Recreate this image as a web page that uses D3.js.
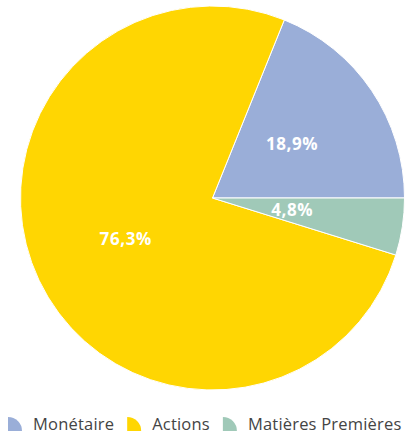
<!DOCTYPE html>
<html>
<head>
<meta charset="utf-8">
<script src="https://cdn.jsdelivr.net/npm/d3@7"></script>
<style>
  body { margin: 0; background: #fff; }
  svg { display: block; }
  .slice-label { font-family: "Open Sans", Lato, sans-serif; font-weight: 700; font-size: 17px; letter-spacing: 0.6px; fill: #fff; }
  .legend-text { font-family: "Open Sans", Lato, sans-serif; font-size: 16.5px; letter-spacing: 0.2px; fill: #444; }
</style>
</head>
<body>
<svg id="chart"></svg>
<script>
const categories = ['Monétaire', 'Actions', 'Matières Premières'];
const values = [18.9, 76.3, 4.8];
const colors = ['#9aaed8', '#ffd602', '#a0c9b8'];

const width = 420, height = 436;
const cx = 212.5, cy = 198, radius = 192;

const data = categories.map((c, i) => ({name: c, value: values[i]}));

const svg = d3.select('#chart')
    .attr('width', width)
    .attr('height', height);

// counter-clockwise from 3 o'clock
const pie = d3.pie()
    .value(d => d.value)
    .sort(null)
    .startAngle(Math.PI / 2)
    .endAngle(Math.PI / 2 - 2 * Math.PI);

const arc = d3.arc().innerRadius(0).outerRadius(radius);

const colorScale = d3.scaleOrdinal().domain(categories).range(colors);

const g = svg.append('g')
    .attr('transform', `translate(${cx},${cy})`);

const arcs = pie(data);

g.selectAll('.slice')
  .data(arcs)
  .enter()
  .append('path')
    .attr('class', 'slice')
    .attr('d', arc)
    .attr('fill', d => colorScale(d.data.name))
    .attr('stroke', '#fff')
    .attr('stroke-width', 1);

// labels: small slices get pulled in a bit
g.selectAll('.slice-label')
  .data(arcs)
  .enter()
  .append('text')
    .attr('class', 'slice-label')
    .attr('transform', d => {
      const span = Math.abs(d.endAngle - d.startAngle);
      const r = span < 0.5 ? radius * 0.42 : radius * 0.5;
      const a = (d.startAngle + d.endAngle) / 2;
      return `translate(${Math.sin(a) * r},${-Math.cos(a) * r})`;
    })
    .attr('text-anchor', 'middle')
    .attr('dy', '0.35em')
    .text(d => d3.format('.1f')(d.data.value).replace('.', ',') + '%');

// legend
const iconSize = 14;
const legend = svg.append('g').attr('transform', 'translate(8,417)');
let x = 0;
data.forEach(d => {
  const item = legend.append('g').attr('transform', `translate(${x},0)`);
  item.append('path')
    .attr('d', `M0,0 A${iconSize},${iconSize} 0 0 1 ${iconSize},${iconSize} L0,${iconSize} Z`)
    .attr('fill', colorScale(d.name));
  const t = item.append('text')
    .attr('class', 'legend-text')
    .attr('x', iconSize + 11)
    .attr('y', iconSize - 1)
    .text(d.name);
  x += iconSize + 11 + t.node().getComputedTextLength() + 13;
});
</script>
</body>
</html>
